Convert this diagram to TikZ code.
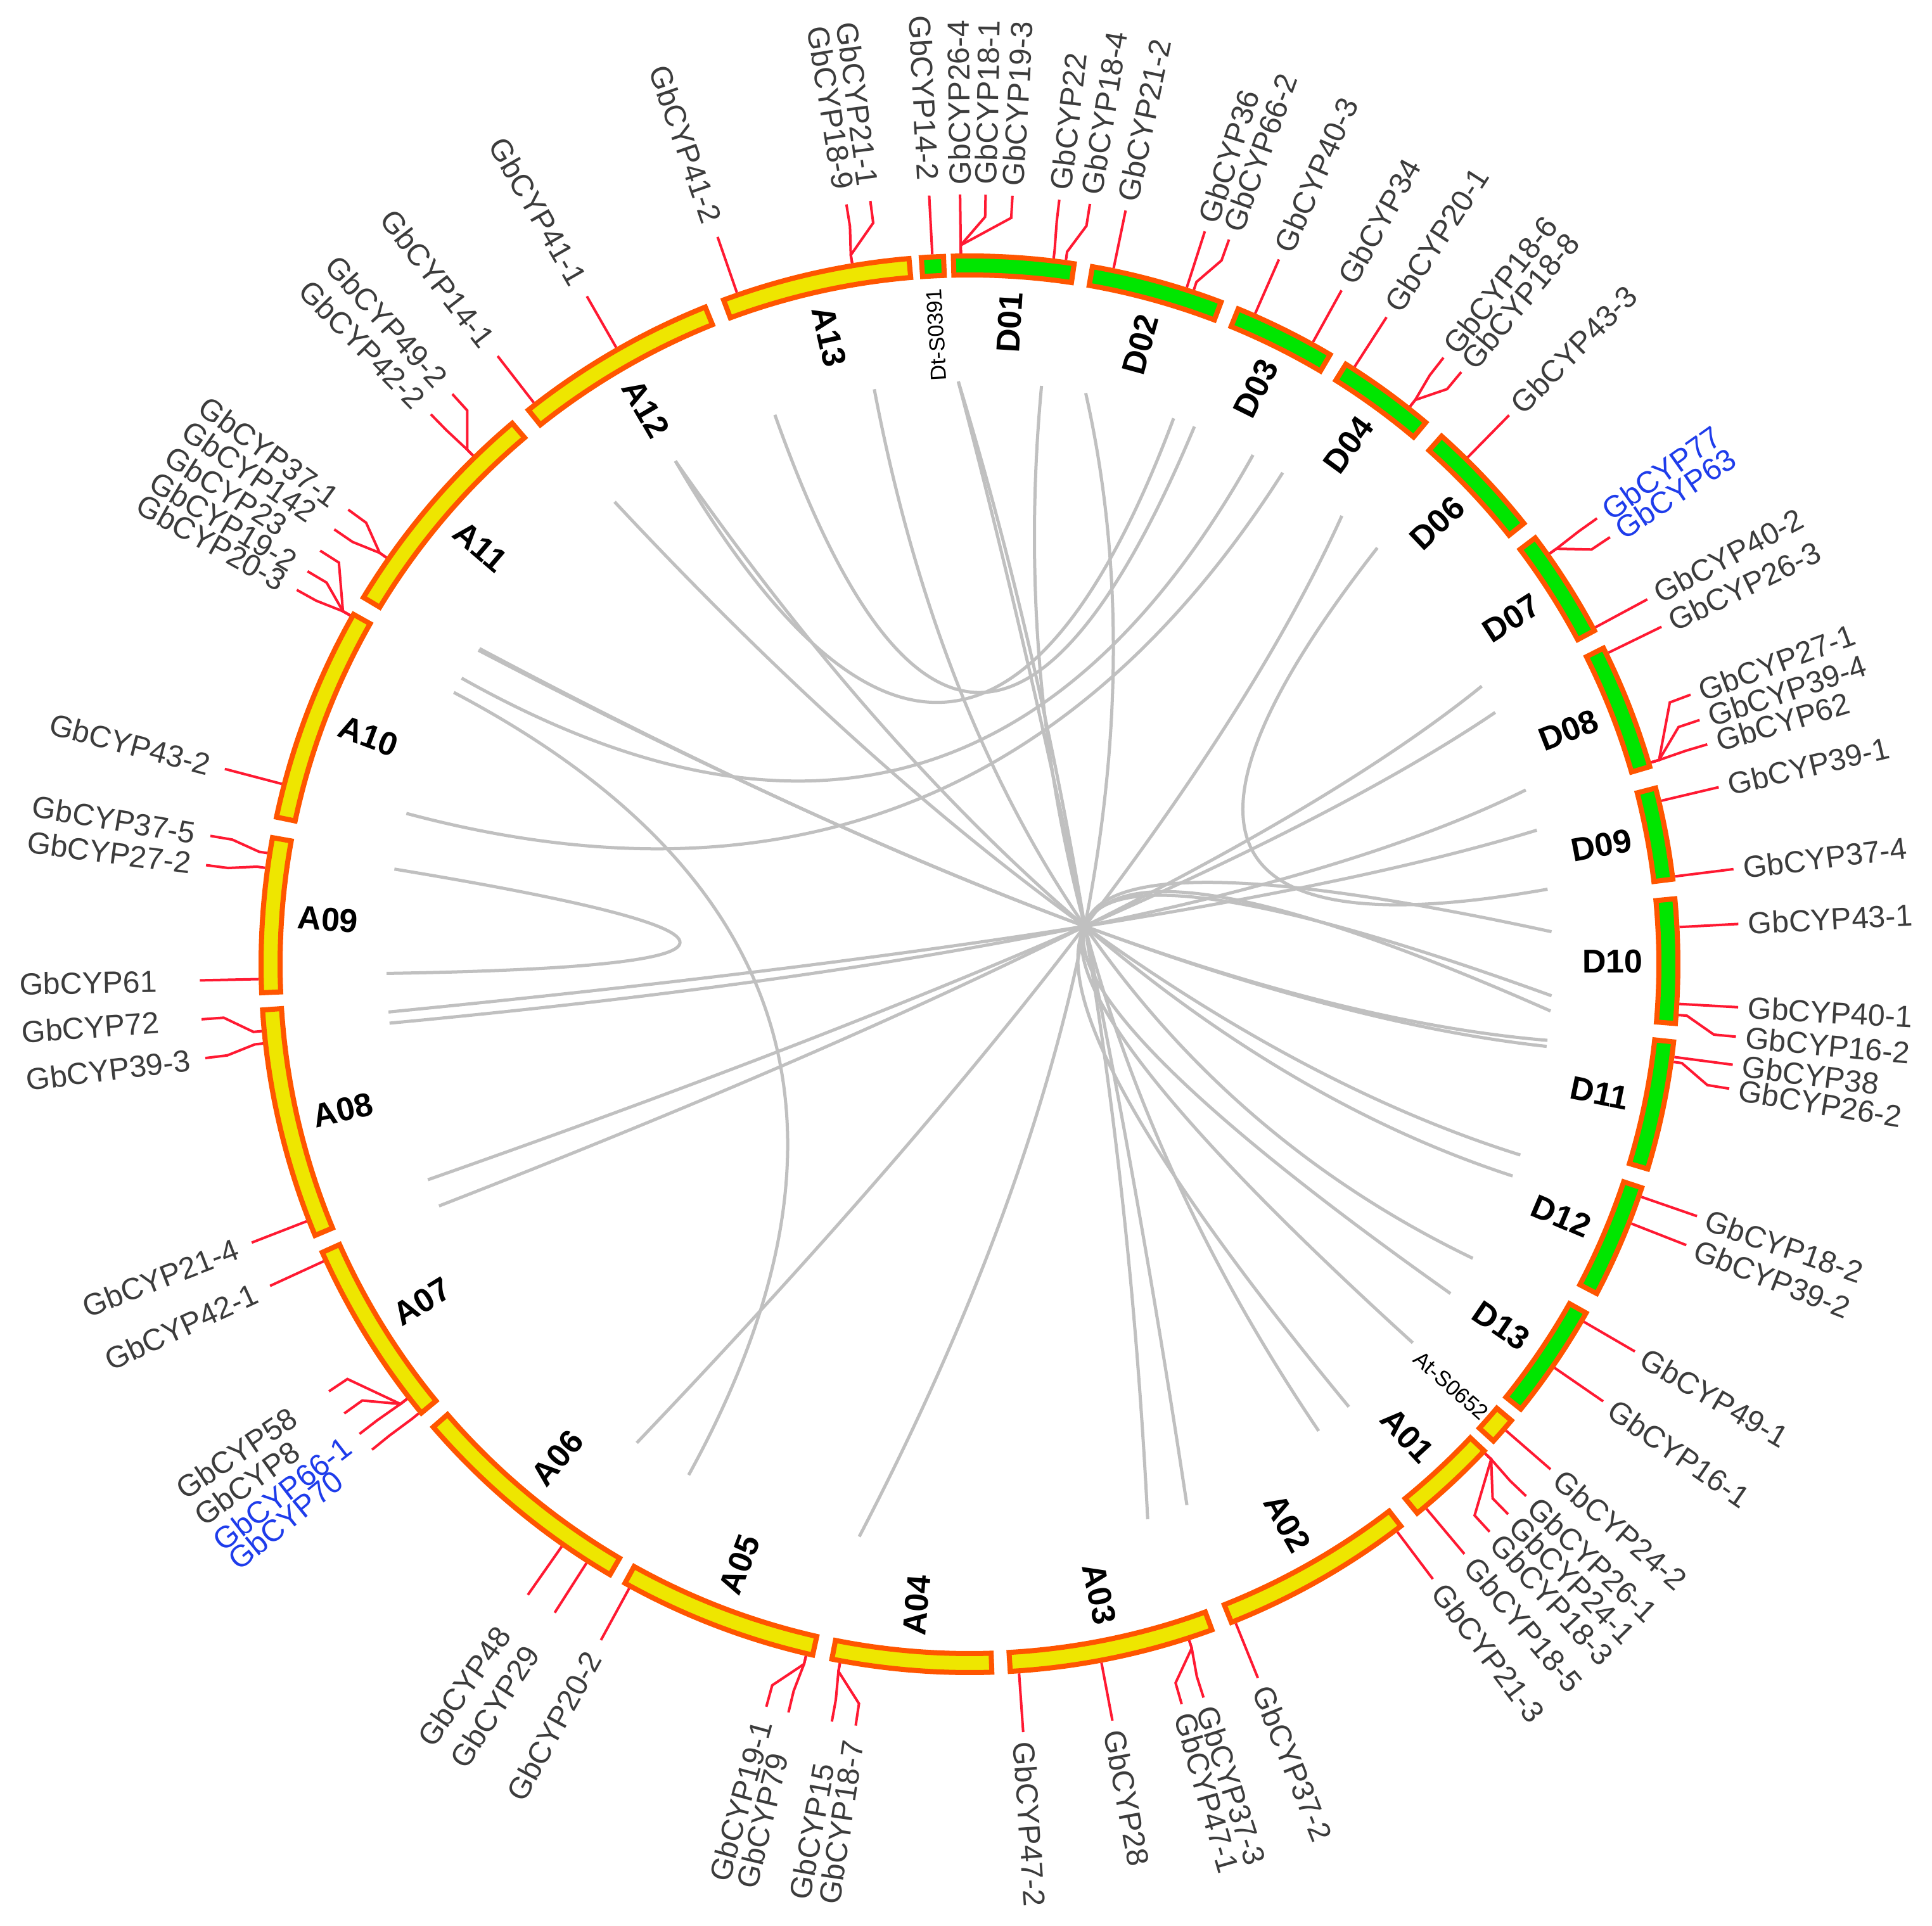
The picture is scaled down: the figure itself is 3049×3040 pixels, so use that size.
\documentclass[tikz,border=0pt]{standalone}
\usepackage{fontspec}
\setmainfont{Liberation Sans}
\usetikzlibrary{calc}
\definecolor{chrY}{RGB}{238,230,0}
\definecolor{chrG}{RGB}{0,230,0}
\definecolor{chrB}{RGB}{255,85,0}
\definecolor{tickc}{RGB}{255,25,50}
\definecolor{lblc}{RGB}{60,60,60}
\definecolor{blu}{RGB}{30,60,235}
\definecolor{linkc}{RGB}{192,192,192}
\tikzset{
  seg/.style={draw=chrB, line width=0.08cm, line join=miter},
  tickline/.style={draw=tickc, line width=0.04cm},
  link/.style={draw=linkc, line width=0.05cm},
  glabel/.style={inner sep=0pt, font=\fontsize{13.7pt}{16pt}\selectfont},
  clabel/.style={inner sep=0pt, text=black, font=\bfseries\fontsize{14.8pt}{17pt}\selectfont},
  slabel/.style={inner sep=0pt, text=black, font=\fontsize{9.8pt}{11pt}\selectfont},
}
\newcommand\chrom[3]{\path[seg, fill=#3] (#1:1088) arc[start angle=#1, end angle=#2, radius=10.88cm] -- (#2:1118) arc[start angle=#2, end angle=#1, radius=11.18cm] -- cycle;}
\newcommand\gR[5]{%
  \draw[tickline] (#2:1122) -- (#2:1135) -- (#3:1180) -- (#3:1215);
  \node[glabel, text=#5, rotate=#3, anchor=west] (g#1) at (#3:1230) {#4};}
\newcommand\gL[5]{%
  \draw[tickline] (#2:1122) -- (#2:1135) -- (#3:1180) -- (#3:1215);
  \node[glabel, text=#5, rotate=#3+180, anchor=west] (g#1) at (#3:1500) {#4};}
% quadratic link through the hub point H=(182,60) at t=1/2 (written as cubic)
\newcommand\hubchord[2]{\draw[link] (#1:920) .. controls ($(242.67,80)+(#2+180:306.67)$) and ($(242.67,80)+(#1+180:306.67)$) .. (#2:920);}
% quadratic link with control point at the centre
\newcommand\ochord[2]{\draw[link] (#1:920) .. controls (#1:306.67) and (#2:306.67) .. (#2:920);}
% quadratic link through point M at t=1/2 (#3,#4 = 4/3 M)
\newcommand\mchord[4]{\draw[link] (#1:920) .. controls ($(#3,#4)+(#2+180:306.67)$) and ($(#3,#4)+(#1+180:306.67)$) .. (#2:920);}
\begin{document}
\begin{tikzpicture}[x=0.01cm,y=0.01cm]
\useasboundingbox (-1530,-1518) rectangle (1519,1522);
\fill[white] (-1530,-1518) rectangle (1519,1522);
% ---------- links ----------
\ochord{170.6}{180.9}
\ochord{109.5}{67.3}
\ochord{120.3}{69.5}
\ochord{150.6}{60.9}
\ochord{165.0}{57.5}
\ochord{152.2}{-118.8}
\mchord{45.6}{7.4}{593.33}{242.67}
\hubchord{147.2}{-7.5}
\hubchord{147.4}{-8.1}
\hubchord{127.5}{-19.1}
\hubchord{120.3}{-21.3}
\hubchord{99.4}{-30.3}
\hubchord{91.1}{-68.1}
\hubchord{91.1}{-72.2}
\hubchord{82.9}{-53.2}
\hubchord{78.5}{-100.9}
\hubchord{50.3}{-124.8}
\hubchord{28.5}{204.5}
\hubchord{25.6}{201.7}
\hubchord{17.4}{185.8}
\hubchord{13.3}{184.7}
\hubchord{3.2}{-34.4}
\hubchord{-3.1}{-40.5}
\hubchord{-4.6}{-49.4}
% ---------- chromosomes ----------
\chrom{110.3}{94.9}{chrY}
\chrom{93.9}{92.1}{chrG}
\chrom{91.3}{81.5}{chrG}
\chrom{80.0}{69.2}{chrG}
\chrom{67.7}{59.4}{chrG}
\chrom{57.9}{49.9}{chrG}
\chrom{48.2}{38.5}{chrG}
\chrom{37.0}{28.1}{chrG}
\chrom{26.5}{16.2}{chrG}
\chrom{14.4}{6.9}{chrG}
\chrom{5.3}{-4.8}{chrG}
\chrom{-6.3}{-16.8}{chrG}
\chrom{-18.4}{-27.7}{chrG}
\chrom{-29.5}{-38.9}{chrG}
\chrom{-40.1}{-42.3}{chrY}
\chrom{-43.4}{-50.8}{chrY}
\chrom{-52.5}{-68.3}{chrY}
\chrom{-70.0}{-86.7}{chrY}
\chrom{-88.2}{-101.2}{chrY}
\chrom{-102.8}{-119.1}{chrY}
\chrom{-120.5}{-139.2}{chrY}
\chrom{-140.7}{-156.0}{chrY}
\chrom{-157.5}{-176.3}{chrY}
\chrom{182.3}{169.7}{chrY}
\chrom{168.0}{150.4}{chrY}
\chrom{148.8}{130.2}{chrY}
\chrom{128.5}{111.9}{chrY}
% ---------- chromosome labels ----------
\node[clabel, rotate=-77.4] (cA13) at (102.6:1015) {A13};
\node[slabel, rotate=93] (cDt) at (93.0:995) {Dt-S0391};
\node[clabel, rotate=86.4] (cD01) at (86.4:1015) {D01};
\node[clabel, rotate=74.6] (cD02) at (74.6:1015) {D02};
\node[clabel, rotate=63.55] (cD03) at (63.55:1015) {D03};
\node[clabel, rotate=53.9] (cD04) at (53.9:1015) {D04};
\node[clabel, rotate=43.35] (cD06) at (43.35:1015) {D06};
\node[clabel, rotate=32.55] (cD07) at (32.55:1015) {D07};
\node[clabel, rotate=21.35] (cD08) at (21.35:1015) {D08};
\node[clabel, rotate=10.65] (cD09) at (10.65:1015) {D09};
\node[clabel, rotate=0.25] (cD10) at (0.25:1015) {D10};
\node[clabel, rotate=-11.55] (cD11) at (-11.55:1015) {D11};
\node[clabel, rotate=-23.05] (cD12) at (-23.05:1015) {D12};
\node[clabel, rotate=-34.2] (cD13) at (-34.2:1015) {D13};
\node[slabel, rotate=-41.2] (cAt) at (-41.2:1010) {At-S0652};
\node[clabel, rotate=-47.1] (cA01) at (-47.1:1015) {A01};
\node[clabel, rotate=-60.4] (cA02) at (-60.4:1015) {A02};
\node[clabel, rotate=-78.35] (cA03) at (-78.35:1015) {A03};
\node[clabel, rotate=85.3] (cA04) at (-94.7:1015) {A04};
\node[clabel, rotate=69.05] (cA05) at (-110.95:1015) {A05};
\node[clabel, rotate=50.15] (cA06) at (-129.85:1015) {A06};
\node[clabel, rotate=31.65] (cA07) at (-148.35:1015) {A07};
\node[clabel, rotate=13.1] (cA08) at (-166.9:1015) {A08};
\node[clabel, rotate=-4.0] (cA09) at (176.0:1015) {A09};
\node[clabel, rotate=-20.8] (cA10) at (159.2:1015) {A10};
\node[clabel, rotate=-40.5] (cA11) at (139.5:1015) {A11};
\node[clabel, rotate=-59.8] (cA12) at (120.2:1015) {A12};
% ---------- genes ----------
\gL{41x2}{109.1}{109.1}{GbCYP41-2}{lblc}
\gL{18x9}{99.5}{99.2}{GbCYP18-9}{lblc}
\gL{21x1}{99.5}{97.4}{GbCYP21-1}{lblc}
\gL{14x2}{93.0}{93.0}{GbCYP14-2}{lblc}
\gR{26x4}{90.7}{90.7}{GbCYP26-4}{lblc}
\gR{18x1}{90.7}{88.8}{GbCYP18-1}{lblc}
\gR{19x3}{90.7}{86.8}{GbCYP19-3}{lblc}
\gR{22}{83.2}{83.3}{GbCYP22}{lblc}
\gR{18x4}{82.2}{81.0}{GbCYP18-4}{lblc}
\gR{21x2}{78.3}{78.3}{GbCYP21-2}{lblc}
\gR{36}{72.2}{72.2}{GbCYP36}{lblc}
\gR{66x2}{71.6}{70.3}{GbCYP66-2}{lblc}
\gR{40x3}{66.3}{66.3}{GbCYP40-3}{lblc}
\gR{34}{61.1}{61.1}{GbCYP34}{lblc}
\gR{20x1}{57.2}{57.2}{GbCYP20-1}{lblc}
\gR{18x6}{51.7}{52.0}{GbCYP18-6}{lblc}
\gR{18x8}{51.7}{50.3}{GbCYP18-8}{lblc}
\gR{43x3}{45.5}{45.5}{GbCYP43-3}{lblc}
\gR{77}{35.3}{35.4}{GbCYP77}{blu}
\gR{63}{35.3}{33.7}{GbCYP63}{blu}
\gR{40x2}{28.3}{28.3}{GbCYP40-2}{lblc}
\gR{26x3}{26.0}{26.0}{GbCYP26-3}{lblc}
\gR{27x1}{16.5}{20.5}{GbCYP27-1}{lblc}
\gR{39x4}{16.5}{18.5}{GbCYP39-4}{lblc}
\gR{62}{16.5}{16.6}{GbCYP62}{lblc}
\gR{39x1}{13.3}{13.3}{GbCYP39-1}{lblc}
\gR{37x4}{7.1}{7.1}{GbCYP37-4}{lblc}
\gR{43x1}{3.0}{3.0}{GbCYP43-1}{lblc}
\gR{40x1}{-3.2}{-3.2}{GbCYP40-1}{lblc}
\gR{16x2}{-4.1}{-5.4}{GbCYP16-2}{lblc}
\gR{38}{-7.5}{-7.5}{GbCYP38}{lblc}
\gR{26x2}{-7.9}{-9.3}{GbCYP26-2}{lblc}
\gR{18x2}{-19.1}{-19.1}{GbCYP18-2}{lblc}
\gR{39x2}{-21.4}{-21.4}{GbCYP39-2}{lblc}
\gR{49x1}{-30.2}{-30.2}{GbCYP49-1}{lblc}
\gR{16x1}{-34.6}{-34.6}{GbCYP16-1}{lblc}
\gR{24x2}{-41.0}{-41.0}{GbCYP24-2}{lblc}
\gR{26x1}{-43.5}{-43.7}{GbCYP26-1}{lblc}
\gR{24x1}{-43.5}{-45.6}{GbCYP24-1}{lblc}
\gR{18x3}{-43.5}{-47.5}{GbCYP18-3}{lblc}
\gR{18x5}{-50.0}{-50.0}{GbCYP18-5}{lblc}
\gR{21x3}{-53.0}{-53.0}{GbCYP21-3}{lblc}
\gR{37x2}{-68.0}{-68.0}{GbCYP37-2}{lblc}
\gR{37x3}{-72.0}{-72.3}{GbCYP37-3}{lblc}
\gR{47x1}{-72.0}{-74.0}{GbCYP47-1}{lblc}
\gR{28}{-79.3}{-79.3}{GbCYP28}{lblc}
\gR{47x2}{-86.0}{-86.0}{GbCYP47-2}{lblc}
\gL{18x7}{-100.5}{-98.5}{GbCYP18-7}{lblc}
\gL{15}{-100.5}{-100.3}{GbCYP15}{lblc}
\gL{79}{-103.3}{-103.6}{GbCYP79}{lblc}
\gL{19x1}{-103.3}{-105.3}{GbCYP19-1}{lblc}
\gL{20x2}{-118.6}{-118.6}{GbCYP20-2}{lblc}
\gL{29}{-122.6}{-122.6}{GbCYP29}{lblc}
\gL{48}{-125.0}{-125.0}{GbCYP48}{lblc}
\gL{70}{-140.8}{-140.9}{GbCYP70}{blu}
\gL{66x1}{-142.3}{-142.4}{GbCYP66-1}{blu}
\gL{8}{-142.3}{-144.3}{GbCYP8}{lblc}
\gL{58}{-142.3}{-146.3}{GbCYP58}{lblc}
\gL{42x1}{-155.3}{-155.3}{GbCYP42-1}{lblc}
\gL{21x4}{-158.8}{-158.8}{GbCYP21-4}{lblc}
\gL{39x3}{-173.6}{-173.0}{GbCYP39-3}{lblc}
\gL{72}{-174.6}{-175.9}{GbCYP72}{lblc}
\gL{61}{181.2}{181.2}{GbCYP61}{lblc}
\gL{27x2}{172.2}{172.6}{GbCYP27-2}{lblc}
\gL{37x5}{171.0}{170.4}{GbCYP37-5}{lblc}
\gL{43x2}{165.3}{165.3}{GbCYP43-2}{lblc}
\gL{20x3}{150.6}{150.9}{GbCYP20-3}{lblc}
\gL{19x2}{150.6}{149.3}{GbCYP19-2}{lblc}
\gL{23}{150.6}{147.5}{GbCYP23}{lblc}
\gL{142}{145.1}{145.6}{GbCYP142}{lblc}
\gL{37x1}{145.1}{143.8}{GbCYP37-1}{lblc}
\gL{42x2}{134.3}{134.4}{GbCYP42-2}{lblc}
\gL{49x2}{134.3}{132.2}{GbCYP49-2}{lblc}
\gL{14x1}{127.8}{127.8}{GbCYP14-1}{lblc}
\gL{41x1}{119.8}{119.8}{GbCYP41-1}{lblc}
\end{tikzpicture}
\end{document}
